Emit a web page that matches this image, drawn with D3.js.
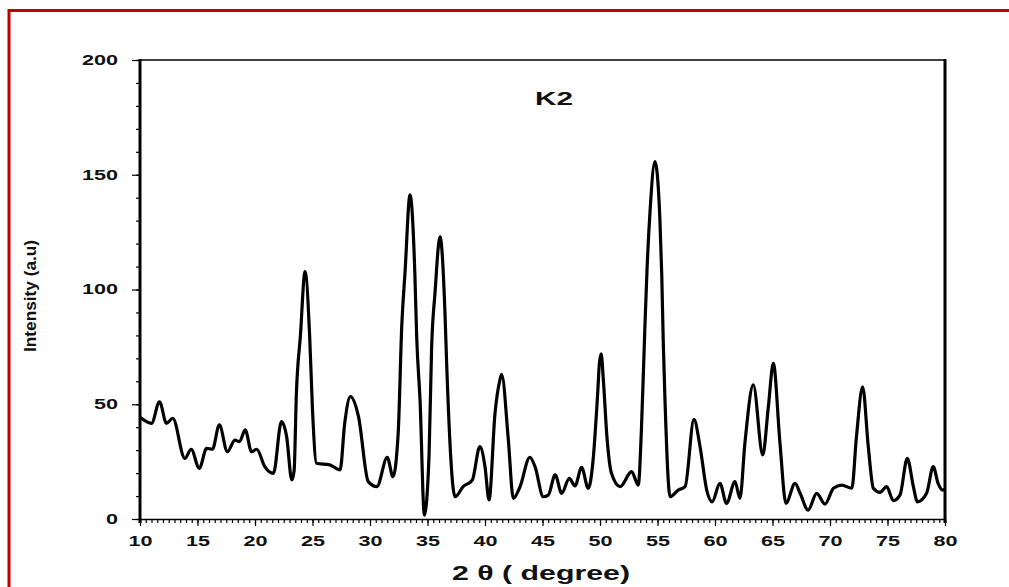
<!DOCTYPE html>
<html>
<head>
<meta charset="utf-8">
<script src="https://cdn.jsdelivr.net/npm/d3@7"></script>
<style>
  html, body { margin: 0; padding: 0; background: #fff; }
  svg { display: block; }
  .tick-label { font-family: Arial, "Liberation Sans", sans-serif; font-weight: bold; font-size: 14px; fill: #111; }
</style>
</head>
<body>
<div id="chart"></div>
<script>
// XRD pattern, sample K2
const twoTheta = [10, 11.0, 11.7, 12.3, 12.85, 13.9, 14.45, 15.15, 15.8, 16.3, 16.9, 17.6, 18.25, 18.65, 19.15, 19.7, 20.15, 20.85, 21.6,
  22.3, 22.75, 23.2, 23.4, 23.6, 23.95, 24.35, 24.75, 25.0, 25.35, 26.5, 27.4, 27.8, 28.3, 29.0, 29.85, 30.6, 31.5, 32.0, 32.45,
  32.76, 33.05, 33.48, 33.9, 34.06, 34.35, 34.73, 35.13, 35.36, 35.65, 36.09, 36.52, 36.67, 37.4, 38.1, 38.9, 39.55, 40.0, 40.35,
  40.87, 41.3, 41.45, 42.03, 42.46, 43.05, 43.9, 44.35, 45.07, 45.5, 46.1, 46.67, 47.33, 47.83, 48.4, 48.98, 49.4, 49.8, 49.95,
  50.1, 50.3, 50.6, 51.0, 51.75, 52.75, 53.33, 53.6, 53.9, 54.1, 54.35, 54.78, 55.2, 55.37, 55.5, 55.65, 56.1, 56.8, 57.4, 58.17, 58.7,
  59.28, 59.75, 60.43, 61.0, 61.74, 62.17, 62.6, 63.33, 64.15, 64.64, 65.07, 65.65, 66.17, 66.96, 67.4, 68.1, 68.84, 69.57,
  70.3, 71.0, 71.9, 72.3, 72.84, 73.33, 73.77, 74.35, 74.93, 75.5, 76.09, 76.72, 77.25, 77.6, 78.4, 78.98, 79.4, 79.8, 80];
const intensity = [44.3, 41.7, 51.1, 41.7, 43.9, 26.4, 30.4, 22.1, 30.8, 30.4, 41, 29.3, 34.4, 33.7, 38.8, 29.3, 30.4, 22.8, 19.9,
  42.4, 35.9, 17, 21, 54.8, 80, 107.8, 80, 47.5, 24.3, 23.6, 21.4, 41.7, 53.3, 44.6, 16.3, 14.1, 26.9, 18.4, 37.3,
  83.8, 107.8, 141.2, 107, 79.4, 51.9, 1.7, 27.1, 75, 98.3, 123, 89.7, 67.1, 9.7, 14.1, 17, 31.5, 22.8, 8.3,
  46, 60.6, 63, 34.4, 9, 14.1, 26.9, 22.8, 9.7, 10.4, 19.2, 11.2, 17.7, 14.4, 22.5, 13.4, 25.7, 55, 68,
  72, 60, 36, 19.9, 14.1, 20.6, 14.8, 38.8, 83, 110, 133.9, 155.7, 131.7, 106.3, 77.3, 51.9, 9.7, 12.6, 14.1, 43.4, 31.5,
  12.6, 7.5, 15.5, 6.8, 16.3, 9, 33, 58.4, 27.9, 48.9, 67.8, 33, 6.8, 15.5, 11.2, 3.9, 11.2, 6.5,
  13.4, 14.8, 13.4, 35.9, 57.6, 31.5, 13.4, 11.6, 14.1, 8, 10.5, 26.4, 14.1, 7.5, 11.2, 22.8, 15.5, 12.6, 13];

const xTicks = [10, 15, 20, 25, 30, 35, 40, 45, 50, 55, 60, 65, 70, 75, 80];
const yTicks = [0, 50, 100, 150, 200];
const xMinor = d3.range(10, 80.01, 0.5);
const yMinor = d3.range(0, 200.01, 10);

const W = 1009, H = 587;
const M = { left: 140, right: 945, top: 60, bottom: 519 };

const svg = d3.select('#chart').append('svg')
  .attr('width', W)
  .attr('height', H);

// red frame, runs off the right and bottom edges
svg.append('rect')
  .attr('x', 9).attr('y', 10.5)
  .attr('width', 1100).attr('height', 700)
  .attr('fill', 'none')
  .attr('stroke', '#c00000')
  .attr('stroke-width', 3);

const x = d3.scaleLinear().domain([10, 80]).range([M.left, M.right]);
const y = d3.scaleLinear().domain([0, 200]).range([M.bottom, M.top]);

// plot frame: thin top, thick sides
svg.append('line')
  .attr('x1', M.left).attr('x2', M.right)
  .attr('y1', M.top).attr('y2', M.top)
  .attr('stroke', '#000').attr('stroke-width', 1.5);
svg.append('line')
  .attr('x1', M.right).attr('x2', M.right)
  .attr('y1', M.top - 1).attr('y2', M.bottom + 4)
  .attr('stroke', '#000').attr('stroke-width', 3);

// x minor ticks
svg.append('g')
  .attr('transform', `translate(0,${M.bottom})`)
  .call(d3.axisBottom(x).tickValues(xMinor).tickSize(4).tickFormat(''))
  .call(g => g.select('.domain').attr('stroke-width', 1.5))
  .call(g => g.selectAll('.tick line').attr('stroke-width', 1.2));

// x major ticks and labels
svg.append('g')
  .attr('transform', `translate(0,${M.bottom})`)
  .call(d3.axisBottom(x).tickValues(xTicks).tickSize(7).tickPadding(7).tickFormat(d3.format('d')))
  .call(g => g.select('.domain').remove())
  .call(g => g.selectAll('.tick line').attr('stroke-width', 1.2))
  .call(g => g.selectAll('.tick text')
    .attr('class', 'tick-label')
    .attr('dy', '0.9em')
    .attr('textLength', d => String(d).length * 12)
    .attr('lengthAdjust', 'spacingAndGlyphs'));

// y minor ticks
svg.append('g')
  .attr('transform', `translate(${M.left},0)`)
  .call(d3.axisLeft(y).tickValues(yMinor).tickSize(4).tickFormat(''))
  .call(g => g.select('.domain').remove())
  .call(g => g.selectAll('.tick line').attr('stroke-width', 1.2));

// y major ticks and labels
svg.append('g')
  .attr('transform', `translate(${M.left},0)`)
  .call(d3.axisLeft(y).tickValues(yTicks).tickSize(8).tickPadding(14).tickFormat(d3.format('d')))
  .call(g => g.select('.domain').remove())
  .call(g => g.selectAll('.tick line').attr('stroke-width', 1.2))
  .call(g => g.selectAll('.tick text')
    .attr('class', 'tick-label')
    .attr('textLength', d => String(d).length * 12)
    .attr('lengthAdjust', 'spacingAndGlyphs'));

// thick left axis line
svg.append('line')
  .attr('x1', M.left).attr('x2', M.left)
  .attr('y1', M.top - 1).attr('y2', M.bottom + 4)
  .attr('stroke', '#000').attr('stroke-width', 3);

// pattern
const line = d3.line()
  .x((d, i) => x(twoTheta[i]))
  .y(d => y(d))
  .curve(d3.curveMonotoneX);

svg.append('path')
  .datum(intensity)
  .attr('d', line)
  .attr('fill', 'none')
  .attr('stroke', '#000')
  .attr('stroke-width', 3.2)
  .attr('stroke-linejoin', 'round');

// labels
svg.append('text')
  .attr('x', 554).attr('y', 105)
  .attr('text-anchor', 'middle')
  .attr('font-family', 'Arial, "Liberation Sans", sans-serif')
  .attr('font-weight', 'bold')
  .attr('font-size', 19)
  .attr('fill', '#111')
  .attr('textLength', 38)
  .attr('lengthAdjust', 'spacingAndGlyphs')
  .text('K2');

svg.append('text')
  .attr('x', 541).attr('y', 580)
  .attr('text-anchor', 'middle')
  .attr('font-family', 'Arial, "Liberation Sans", sans-serif')
  .attr('font-weight', 'bold')
  .attr('font-size', 20)
  .attr('fill', '#111')
  .attr('textLength', 178)
  .attr('lengthAdjust', 'spacingAndGlyphs')
  .text('2 θ ( degree)');

svg.append('text')
  .attr('transform', 'translate(36,296) rotate(-90)')
  .attr('text-anchor', 'middle')
  .attr('font-family', '"Liberation Sans Narrow", "Arial Narrow", Arial, sans-serif')
  .attr('font-weight', 'bold')
  .attr('font-size', 16)
  .attr('fill', '#111')
  .attr('textLength', 112)
  .attr('lengthAdjust', 'spacingAndGlyphs')
  .text('Intensity (a.u)');
</script>
</body>
</html>
